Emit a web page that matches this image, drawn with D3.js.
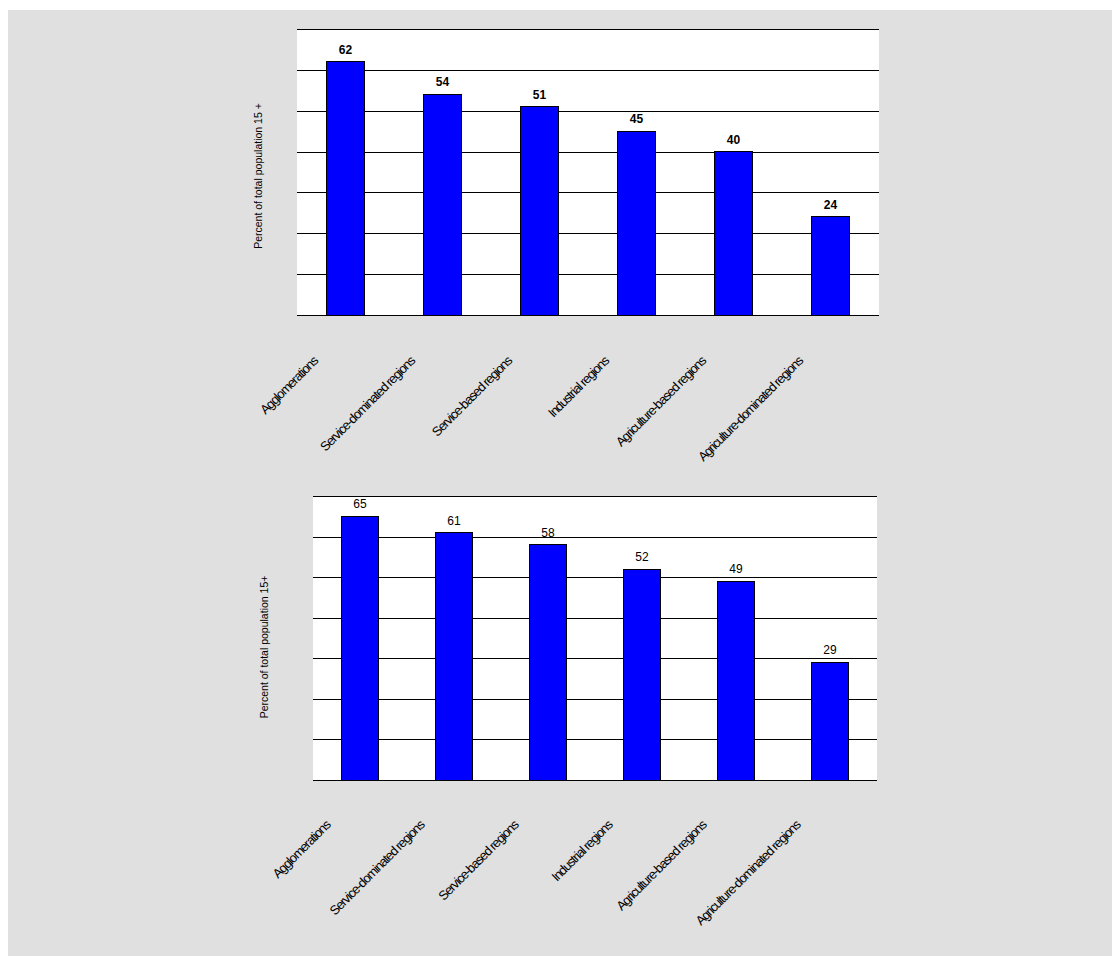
<!DOCTYPE html>
<meta charset="utf-8">
<head>
<title>Population share by region type</title>
</head>
<style>
html, body {
  margin: 0;
  overflow: hidden;
  background: #fff;
  font-family: Arial, "Liberation Sans", sans-serif;
}
.grid line { stroke: #000; stroke-width: 1px; shape-rendering: crispEdges; }
.bar { fill: #0000ff; stroke: #000; stroke-width: 1px; shape-rendering: crispEdges; }
.cat { font-size: 13px; letter-spacing: -1.1px; fill: #000; }
.ytitle { font-size: 10.5px; fill: #000; }
</style>
<body>
<script src="https://d3js.org/d3.v7.min.js"></script>
<script>

// categories shared by both charts
var categories = [
  "Agglomerations",
  "Service-dominated regions",
  "Service-based regions",
  "Industrial regions",
  "Agriculture-based regions",
  "Agriculture-dominated regions"
];

// upper chart
var valuesTop = [62, 54, 51, 45, 40, 24];
// lower chart
var valuesBottom = [65, 61, 58, 52, 49, 29];

var yTicks = [0, 10, 20, 30, 40, 50, 60, 70];

var width = 1112, height = 956;

var svg = d3.select("body").append("svg")
    .attr("width", width)
    .attr("height", height);

// grey panel
svg.append("rect")
    .attr("x", 8).attr("y", 10)
    .attr("width", width - 8).attr("height", height - 10)
    .attr("fill", "#e0e0e0");

function drawChart(o) {
    var x = d3.scaleBand()
        .domain(categories)
        .range([o.left, o.right])
        .paddingInner(0.6)
        .paddingOuter(0.3);

    var y = d3.scaleLinear()
        .domain([0, 70])
        .range([o.bottom, o.top]);

    var g = svg.append("g");

    g.append("rect")
        .attr("x", o.left).attr("y", o.top)
        .attr("width", o.right - o.left).attr("height", o.bottom - o.top)
        .attr("fill", "#fff");

    g.append("g").attr("class", "grid")
        .selectAll("line")
        .data(yTicks)
        .enter().append("line")
        .attr("x1", o.left).attr("x2", o.right)
        .attr("y1", function (d) { return Math.round(y(d)) + 0.5; })
        .attr("y2", function (d) { return Math.round(y(d)) + 0.5; });

    g.selectAll(".bar")
        .data(o.values)
        .enter().append("rect")
        .attr("class", "bar")
        .attr("x", function (d, i) { return x(categories[i]); })
        .attr("y", function (d) { return y(d); })
        .attr("width", x.bandwidth())
        .attr("height", function (d) { return y(0) - y(d); });

    g.selectAll(".val")
        .data(o.values)
        .enter().append("text")
        .attr("class", "val")
        .attr("x", function (d, i) { return x(categories[i]) + x.bandwidth() / 2; })
        .attr("y", function (d) { return y(d) - 8; })
        .attr("text-anchor", "middle")
        .style("font-size", "12px")
        .style("font-weight", o.bold ? "bold" : "normal")
        .text(function (d) { return d; });

    // rotated category labels
    g.selectAll(".cat")
        .data(categories)
        .enter().append("text")
        .attr("class", "cat")
        .attr("text-anchor", "end")
        .attr("transform", function (d) {
            var cx = x(d) + x.bandwidth() / 2 + o.labelDx;
            return "translate(" + cx + "," + (o.bottom + o.labelDy) + ") rotate(-45)";
        })
        .text(function (d) { return d; });

    g.append("text")
        .attr("class", "ytitle")
        .attr("text-anchor", "middle")
        .attr("transform", "translate(" + o.titleX + "," + o.titleY + ") rotate(-90)")
        .text(o.title);
}

drawChart({
    values: valuesTop,
    left: 297, right: 879, top: 29, bottom: 315,
    bold: true,
    labelDx: -27, labelDy: 47,
    title: "Percent of total population 15 +",
    titleX: 262, titleY: 176
});

drawChart({
    values: valuesBottom,
    left: 313, right: 877, top: 496, bottom: 780,
    bold: false,
    labelDx: -29, labelDy: 46,
    title: "Percent of total population 15+",
    titleX: 268, titleY: 647
});

</script>
</body>
